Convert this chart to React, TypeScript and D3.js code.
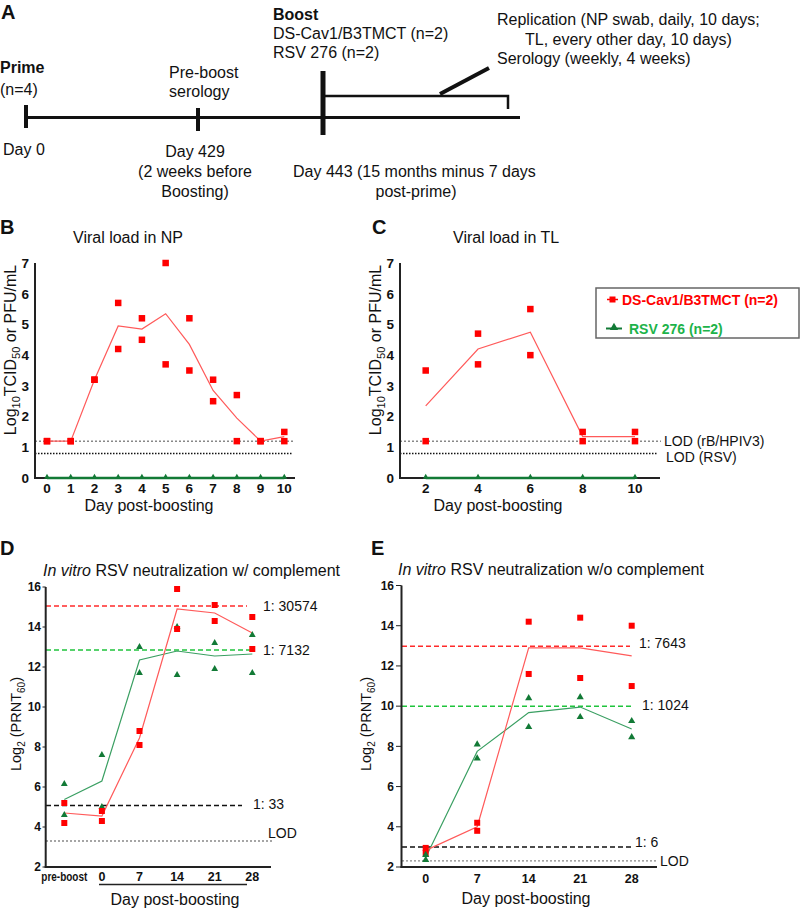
import React from "react";
import * as d3 from "d3";

const FONT = "'Liberation Sans', Arial, Helvetica, sans-serif";
const RED = "#ff0000";
const RED_LINE = "#ff5a5a";
const GREEN_MK = "#127a36";
const GREEN_LINE = "#3a9f62";
const GREEN_DASH = "#1fc43c";
const GREEN_TXT = "#1db34a";

// ---- Panel B: viral load in NP ----
const npDays = [0, 1, 2, 3, 4, 5, 6, 7, 8, 9, 10];
const npDsCavA = [1.2, 1.2, 3.2, 5.7, 5.2, 7.0, 5.2, 3.2, 2.7, 1.2, 1.5];
const npDsCavB = [1.2, 1.2, 3.2, 4.2, 4.5, 3.7, 3.5, 2.5, 1.2, 1.2, 1.2];
const npRsv = [0, 0, 0, 0, 0, 0, 0, 0, 0, 0, 0];

// ---- Panel C: viral load in TL ----
const tlDays = [2, 4, 6, 8, 10];
const tlDsCavA = [3.5, 4.7, 5.5, 1.5, 1.5];
const tlDsCavB = [1.2, 3.7, 4.0, 1.2, 1.2];
const tlRsv = [0, 0, 0, 0, 0];
const lodHpiv3 = 1.2;
const lodRsv = 0.8;
const viralTicks = [0, 1, 2, 3, 4, 5, 6, 7];

// ---- Panel D: neutralization with complement ----
const dCats = ["pre-boost", "0", "7", "14", "21", "28"];
const dDsCavA = [5.2, 4.8, 8.8, 15.9, 15.1, 14.5];
const dDsCavB = [4.2, 4.3, 8.1, 13.9, 14.3, 12.9];
const dRsvA = [6.15, 7.6, 13.0, 14.0, 13.2, 13.6];
const dRsvB = [4.6, 5.0, 11.7, 11.6, 11.9, 11.7];
const dRefValues = [15.05, 12.85, 5.07];
const dRefLabels = ["1: 30574", "1: 7132", "1: 33"];
const dLod = 3.3;

// ---- Panel E: neutralization without complement ----
const eCats = ["0", "7", "14", "21", "28"];
const eDsCavA = [2.95, 4.2, 14.2, 14.4, 14.0];
const eDsCavB = [2.7, 3.8, 11.6, 11.4, 11.0];
const eRsvA = [2.6, 8.1, 10.4, 10.45, 9.26];
const eRsvB = [2.35, 7.4, 8.96, 9.46, 8.46];
const eRefValues = [12.98, 9.99, 3.0];
const eRefLabels = ["1: 7643", "1: 1024", "1: 6"];
const eLod = 2.3;
const prntTicks = [2, 4, 6, 8, 10, 12, 14, 16];

const mean2 = (a: number[], b: number[]) => a.map((v, i) => d3.mean([v, b[i]]) as number);

const triPath = (size: number) => d3.symbol(d3.symbolTriangle, size)() as string;

function Square({ x, y, s = 6.5 }: { x: number; y: number; s?: number }) {
  return <rect x={x - s / 2} y={y - s / 2} width={s} height={s} fill={RED} />;
}
function Tri({ x, y, size = 22 }: { x: number; y: number; size?: number }) {
  return <path d={triPath(size)} transform={`translate(${x},${y})`} fill={GREEN_MK} />;
}

export default function App() {
  // scales
  const yV = d3.scaleLinear().domain([0, 7]).range([478, 263]);
  const xB = d3.scaleLinear().domain([0, 10]).range([47, 284.3]);
  const xC = d3.scaleLinear().domain([2, 10]).range([425.7, 635]);
  const xD = d3.scalePoint<string>().domain(dCats).range([64.3, 252.3]);
  const yD = d3.scaleLinear().domain([2, 16]).range([867, 587]);
  const xE = d3.scalePoint<string>().domain(eCats).range([425.7, 631.7]);
  const yE = d3.scaleLinear().domain([2, 16]).range([867, 585.5]);

  const lineB = d3.line<number>().x((_, i) => xB(npDays[i])).y((d) => yV(d));
  const lineC = d3.line<number>().x((_, i) => xC(tlDays[i])).y((d) => yV(d));
  const lineD = d3.line<number>().x((_, i) => xD(dCats[i]) as number).y((d) => yD(d));
  const lineE = d3.line<number>().x((_, i) => xE(eCats[i]) as number).y((d) => yE(d));

  const txt = { fontFamily: FONT, fill: "#111" } as const;

  return (
    <svg width={800} height={911} style={{ position: "absolute", left: 0, top: 0, background: "#fff" }}>
      <rect x={0} y={0} width={800} height={911} fill="#fff" />
      {/* ================= Panel A ================= */}
      <g style={txt} fontSize={16}>
        <text x={1} y={19} fontSize={20} fontWeight={700}>A</text>
        <text x={0} y={73} fontWeight={700}>Prime</text>
        <text x={0} y={95}>(n=4)</text>
        <text x={3} y={155}>Day 0</text>
        <text x={169} y={78}>Pre-boost</text>
        <text x={169} y={97}>serology</text>
        <text x={195} y={157} textAnchor="middle">Day 429</text>
        <text x={195} y={177} textAnchor="middle">(2 weeks before</text>
        <text x={195} y={197} textAnchor="middle">Boosting)</text>
        <text x={273} y={20} fontWeight={700}>Boost</text>
        <text x={273} y={39}>DS-Cav1/B3TMCT (n=2)</text>
        <text x={273} y={58}>RSV 276 (n=2)</text>
        <text x={293} y={177}>Day 443 (15 months minus 7 days</text>
        <text x={416} y={197} textAnchor="middle">post-prime)</text>
        <text x={497} y={25}>Replication (NP swab, daily, 10 days;</text>
        <text x={525} y={45}>TL, every other day, 10 days)</text>
        <text x={497} y={64}>Serology (weekly, 4 weeks)</text>
      </g>
      <g stroke="#111" fill="none">
        <line x1={24} x2={520} y1={117.5} y2={117.5} strokeWidth={3} />
        <line x1={26} x2={26} y1={105} y2={128} strokeWidth={4} />
        <line x1={198} x2={198} y1={108} y2={131} strokeWidth={4} />
        <line x1={323} x2={323} y1={71} y2={135} strokeWidth={5} />
        <path d="M323,96 H508 V109" strokeWidth={2.5} />
        <line x1={440} y1={94} x2={489} y2={68} strokeWidth={4} />
      </g>

      {/* ================= Panel B ================= */}
      <g style={txt}>
        <text x={0} y={234} fontSize={20} fontWeight={700}>B</text>
        <text x={73} y={243} fontSize={16}>Viral load in NP</text>
        <text x={149} y={511} fontSize={16} textAnchor="middle">Day post-boosting</text>
        <text transform="translate(16,350) rotate(-90)" fontSize={16} textAnchor="middle">
          <tspan>Log</tspan><tspan dy={4} fontSize={11}>10</tspan><tspan dy={-4}>TCID</tspan>
          <tspan dy={4} fontSize={11}>50</tspan><tspan dy={-4}> or PFU/mL</tspan>
        </text>
        {viralTicks.map((t) => (
          <text key={t} x={29} y={yV(t)} dy="0.36em" fontSize={13.5} fontWeight={700} textAnchor="end">{t}</text>
        ))}
        {npDays.map((d) => (
          <text key={d} x={xB(d)} y={493} fontSize={13.5} fontWeight={700} textAnchor="middle">{d}</text>
        ))}
      </g>
      <line x1={35} x2={295} y1={yV(lodHpiv3)} y2={yV(lodHpiv3)} stroke="#888" strokeWidth={1.5} strokeDasharray="2,2" />
      <line x1={35} x2={293} y1={yV(lodRsv)} y2={yV(lodRsv)} stroke="#111" strokeWidth={1.5} strokeDasharray="1.5,1.5" />
      <g stroke="#222" strokeWidth={2}>
        <line x1={35} x2={35} y1={263} y2={479} />
        <line x1={34} x2={295} y1={478} y2={478} />
      </g>
      <path d={lineB(mean2(npDsCavA, npDsCavB)) as string} fill="none" stroke={RED_LINE} strokeWidth={1.2} />
      <path d={lineB(npRsv) as string} fill="none" stroke={GREEN_MK} strokeWidth={2.5} />
      {npDays.map((d, i) => (
        <g key={d}>
          <Square x={xB(d)} y={yV(npDsCavA[i])} />
          <Square x={xB(d)} y={yV(npDsCavB[i])} />
          <Tri x={xB(d)} y={yV(npRsv[i]) - 1} size={14} />
        </g>
      ))}

      {/* ================= Panel C ================= */}
      <g style={txt}>
        <text x={372} y={234} fontSize={20} fontWeight={700}>C</text>
        <text x={453} y={243} fontSize={16}>Viral load in TL</text>
        <text x={498} y={511} fontSize={16} textAnchor="middle">Day post-boosting</text>
        <text transform="translate(381,350) rotate(-90)" fontSize={16} textAnchor="middle">
          <tspan>Log</tspan><tspan dy={4} fontSize={11}>10</tspan><tspan dy={-4}>TCID</tspan>
          <tspan dy={4} fontSize={11}>50</tspan><tspan dy={-4}> or PFU/mL</tspan>
        </text>
        {viralTicks.map((t) => (
          <text key={t} x={394} y={yV(t)} dy="0.36em" fontSize={13.5} fontWeight={700} textAnchor="end">{t}</text>
        ))}
        {tlDays.map((d) => (
          <text key={d} x={xC(d)} y={493} fontSize={13.5} fontWeight={700} textAnchor="middle">{d}</text>
        ))}
        <text x={664} y={yV(lodHpiv3)} dy="0.36em" fontSize={14}>LOD (rB/HPIV3)</text>
        <text x={666} y={yV(lodRsv) + 4} dy="0.36em" fontSize={14}>LOD (RSV)</text>
      </g>
      <line x1={400} x2={661} y1={yV(lodHpiv3)} y2={yV(lodHpiv3)} stroke="#888" strokeWidth={1.5} strokeDasharray="2,2" />
      <line x1={400} x2={658} y1={yV(lodRsv)} y2={yV(lodRsv)} stroke="#111" strokeWidth={1.5} strokeDasharray="1.5,1.5" />
      <g stroke="#222" strokeWidth={2}>
        <line x1={400} x2={400} y1={263} y2={479} />
        <line x1={399} x2={660} y1={478} y2={478} />
      </g>
      <path d={lineC(mean2(tlDsCavA, tlDsCavB)) as string} fill="none" stroke={RED_LINE} strokeWidth={1.2} />
      <path d={lineC(tlRsv) as string} fill="none" stroke={GREEN_MK} strokeWidth={2.5} />
      {tlDays.map((d, i) => (
        <g key={d}>
          <Square x={xC(d)} y={yV(tlDsCavA[i])} />
          <Square x={xC(d)} y={yV(tlDsCavB[i])} />
          <Tri x={xC(d)} y={yV(tlRsv[i]) - 1} size={14} />
        </g>
      ))}
      {/* legend */}
      <rect x={596} y={288} width={203} height={50} fill="#fff" stroke="#666" strokeWidth={1.5} />
      <line x1={607} x2={618} y1={299.5} y2={299.5} stroke={RED} strokeWidth={1.5} />
      <Square x={612.5} y={299.5} s={6} />
      <text x={622} y={299.5} dy="0.36em" fontFamily={FONT} fontSize={14} fontWeight={700} fill={RED}>DS-Cav1/B3TMCT (n=2)</text>
      <line x1={606} x2={622} y1={328.5} y2={328.5} stroke={GREEN_MK} strokeWidth={2} />
      <Tri x={614} y={327.5} size={30} />
      <text x={629} y={329} dy="0.36em" fontFamily={FONT} fontSize={14} fontWeight={700} fill={GREEN_TXT}>RSV 276 (n=2)</text>

      {/* ================= Panel D ================= */}
      <g style={txt}>
        <text x={0} y={555} fontSize={20} fontWeight={700}>D</text>
        <text x={43} y={576} fontSize={16}>
          <tspan fontStyle="italic">In vitro</tspan> RSV neutralization w/ complement
        </text>
        <text x={175} y={905} fontSize={16} textAnchor="middle">Day post-boosting</text>
        <text transform="translate(21,724) rotate(-90)" fontSize={14.5} textAnchor="middle">
          <tspan>Log</tspan><tspan dy={4} fontSize={10}>2</tspan><tspan dy={-4}> (PRNT</tspan>
          <tspan dy={4} fontSize={10}>60</tspan><tspan dy={-4}>)</tspan>
        </text>
        {prntTicks.map((t) => (
          <text key={t} x={41} y={yD(t)} dy="0.36em" fontSize={12} fontWeight={700} textAnchor="end">{t}</text>
        ))}
        {dCats.map((c) => (
          <text key={c} x={xD(c)} y={881} fontSize={12.5} fontWeight={700} textAnchor="middle"
            textLength={c === "pre-boost" ? 46 : undefined} lengthAdjust="spacingAndGlyphs">{c}</text>
        ))}
        <text x={263} y={yD(dRefValues[0])} dy="0.36em" fontSize={14}>{dRefLabels[0]}</text>
        <text x={263} y={yD(dRefValues[1])} dy="0.36em" fontSize={14}>{dRefLabels[1]}</text>
        <text x={253} y={yD(dRefValues[2]) - 2} dy="0.36em" fontSize={14}>{dRefLabels[2]}</text>
        <text x={268} y={yD(dLod) - 8} dy="0.36em" fontSize={14}>LOD</text>
      </g>
      <line x1={99} x2={247} y1={884.5} y2={884.5} stroke="#222" strokeWidth={1.5} />
      <line x1={46} x2={247} y1={yD(dRefValues[0])} y2={yD(dRefValues[0])} stroke="#ff2a2a" strokeWidth={1.5} strokeDasharray="5,3" />
      <line x1={46} x2={252} y1={yD(dRefValues[1])} y2={yD(dRefValues[1])} stroke={GREEN_DASH} strokeWidth={1.5} strokeDasharray="5,3" />
      <line x1={46} x2={242} y1={yD(dRefValues[2])} y2={yD(dRefValues[2])} stroke="#111" strokeWidth={1.5} strokeDasharray="5,3" />
      <line x1={46} x2={272} y1={yD(dLod)} y2={yD(dLod)} stroke="#888" strokeWidth={1.3} strokeDasharray="2,2" />
      <g stroke="#222" strokeWidth={2}>
        <line x1={45.7} x2={45.7} y1={587} y2={868} />
        <line x1={44.7} x2={271} y1={867} y2={867} />
        {prntTicks.map((t) => (
          <line key={t} x1={42.5} x2={45.7} y1={yD(t)} y2={yD(t)} strokeWidth={1} />
        ))}
      </g>
      <path d={lineD(mean2(dRsvA, dRsvB)) as string} fill="none" stroke={GREEN_LINE} strokeWidth={1.2} />
      <path d={lineD(mean2(dDsCavA, dDsCavB)) as string} fill="none" stroke={RED_LINE} strokeWidth={1.2} />
      {dCats.map((c, i) => (
        <g key={c}>
          <Tri x={xD(c) as number} y={yD(dRsvA[i])} size={20} />
          <Tri x={xD(c) as number} y={yD(dRsvB[i])} size={20} />
          <Square x={xD(c) as number} y={yD(dDsCavA[i])} s={6} />
          <Square x={xD(c) as number} y={yD(dDsCavB[i])} s={6} />
        </g>
      ))}

      {/* ================= Panel E ================= */}
      <g style={txt}>
        <text x={371} y={555} fontSize={20} fontWeight={700}>E</text>
        <text x={398} y={575} fontSize={16}>
          <tspan fontStyle="italic">In vitro</tspan> RSV neutralization w/o complement
        </text>
        <text x={526} y={904} fontSize={16} textAnchor="middle">Day post-boosting</text>
        <text transform="translate(371,724) rotate(-90)" fontSize={14.5} textAnchor="middle">
          <tspan>Log</tspan><tspan dy={4} fontSize={10}>2</tspan><tspan dy={-4}> (PRNT</tspan>
          <tspan dy={4} fontSize={10}>60</tspan><tspan dy={-4}>)</tspan>
        </text>
        {prntTicks.map((t) => (
          <text key={t} x={394} y={yE(t)} dy="0.36em" fontSize={12} fontWeight={700} textAnchor="end">{t}</text>
        ))}
        {eCats.map((c) => (
          <text key={c} x={xE(c)} y={883} fontSize={12.5} fontWeight={700} textAnchor="middle">{c}</text>
        ))}
        <text x={639} y={yE(eRefValues[0]) - 3} dy="0.36em" fontSize={14}>{eRefLabels[0]}</text>
        <text x={642} y={yE(eRefValues[1]) - 1} dy="0.36em" fontSize={14}>{eRefLabels[1]}</text>
        <text x={635} y={yE(eRefValues[2]) - 5} dy="0.36em" fontSize={14}>{eRefLabels[2]}</text>
        <text x={660} y={yE(eLod)} dy="0.36em" fontSize={14}>LOD</text>
      </g>
      <line x1={402} x2={630} y1={yE(eRefValues[0])} y2={yE(eRefValues[0])} stroke="#ff2a2a" strokeWidth={1.5} strokeDasharray="5,3" />
      <line x1={402} x2={632} y1={yE(eRefValues[1])} y2={yE(eRefValues[1])} stroke={GREEN_DASH} strokeWidth={1.5} strokeDasharray="5,3" />
      <line x1={402} x2={632} y1={yE(eRefValues[2])} y2={yE(eRefValues[2])} stroke="#111" strokeWidth={1.5} strokeDasharray="5,3" />
      <line x1={402} x2={657} y1={yE(eLod)} y2={yE(eLod)} stroke="#888" strokeWidth={1.3} strokeDasharray="2,2" />
      <g stroke="#222" strokeWidth={2}>
        <line x1={401.5} x2={401.5} y1={585.5} y2={868} />
        <line x1={400.5} x2={657} y1={867} y2={867} />
        {prntTicks.map((t) => (
          <line key={t} x1={396} x2={401.5} y1={yE(t)} y2={yE(t)} strokeWidth={1} />
        ))}
      </g>
      <path d={lineE(mean2(eRsvA, eRsvB)) as string} fill="none" stroke={GREEN_LINE} strokeWidth={1.2} />
      <path d={lineE(mean2(eDsCavA, eDsCavB)) as string} fill="none" stroke={RED_LINE} strokeWidth={1.2} />
      {eCats.map((c, i) => (
        <g key={c}>
          <Square x={xE(c) as number} y={yE(eDsCavA[i])} s={6} />
          <Square x={xE(c) as number} y={yE(eDsCavB[i])} s={6} />
          <Tri x={xE(c) as number} y={yE(eRsvA[i])} size={22} />
          <Tri x={xE(c) as number} y={yE(eRsvB[i])} size={22} />
        </g>
      ))}
    </svg>
  );
}
